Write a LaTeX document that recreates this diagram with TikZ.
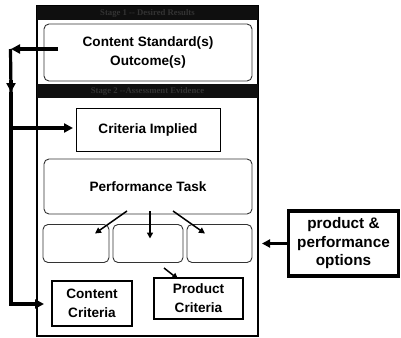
\documentclass[tikz,border=0pt]{standalone}
\usepackage{fontspec}
\setmainfont{Liberation Sans}
\newfontfamily\barfont{Liberation Serif}
\usetikzlibrary{arrows.meta,calc}
\begin{document}
\begin{tikzpicture}[x=1pt,y=-1pt,
  every node/.style={inner sep=0pt,outer sep=0pt,align=center,
    font=\fontsize{13.6}{19}\selectfont\bfseries},
  framebox/.style={draw,line width=2pt},
  bar/.style={fill=black!94,draw=none,font=\fontsize{8.7}{10}\selectfont\barfont\bfseries,text=black!80},
  rbox/.style={draw=black!80,line width=0.9pt,rounded corners=5pt},
  sbox/.style={draw,line width=1pt},
  cbox/.style={draw,line width=2pt},
  obox/.style={draw,line width=3.5pt,font=\fontsize{15.3}{18.5}\selectfont\bfseries},
  bigarrow/.style={line width=3.2pt,-{Triangle[length=9pt,width=9pt]}},
  bigline/.style={line width=3.2pt},
  smallarrow/.style={line width=1.5pt,-{Triangle[length=6pt,width=6pt]}},
  medarrow/.style={line width=2.2pt,-{Triangle[length=8pt,width=8pt]}}
]
\useasboundingbox (0,0) rectangle (401,337);
\node[framebox,minimum width=221pt,minimum height=330pt] (frame) at (147.5,171) {};
\node[bar,minimum width=221pt,minimum height=14pt] (bar1) at (147.5,13) {Stage 1 -- Desired Results};
\node[bar,minimum width=221pt,minimum height=14pt] (bar2) at (147.5,91) {Stage 2 --Assessment Evidence};
\node[rbox,minimum width=208pt,minimum height=57pt] (content) at (148,52.5) {Content Standard(s)\\Outcome(s)};
\node[sbox,minimum width=144pt,minimum height=43pt] (crit) at (148,129.5) {Criteria Implied};
\node[rbox,minimum width=208pt,minimum height=55pt] (pt) at (148,186.5) {\raisebox{-3pt}{Performance Task}};
\node[rbox,minimum width=66pt,minimum height=38pt] (b1) at (76,243.5) {};
\node[rbox,minimum width=70pt,minimum height=38pt] (b2) at (148,243.5) {};
\node[rbox,minimum width=65pt,minimum height=38pt] (b3) at (219.5,243.5) {};
\node[cbox,minimum width=80pt,minimum height=45pt] (cc) at (92,303.5) {Content\\Criteria};
\node[cbox,minimum width=89pt,minimum height=41pt] (pc) at (198.5,298.5) {Product\\Criteria};
\node[obox,minimum width=110pt,minimum height=65pt] (opt) at (343.5,243.5) {product \&\\performance\\options};
% left feedback loop
\coordinate (cs) at (58,49);
\coordinate (L1) at (11,49);
\coordinate (Lm) at (11,92);
\coordinate (Lc) at (11,128);
\coordinate (L2) at (11,304);
\draw[bigarrow] (cs) -- (L1);
\draw[bigline] (10.5,49) -- (Lm);
\draw[bigarrow] (11,80) -- (Lm);
\draw[bigline] (Lm) -- (11,305.6);
\draw[bigarrow] (Lc) -- ($(crit.west)+(-3,-1.5)$);
\draw[bigarrow] (9.4,304) -- ($(cc.west)+(-8,0.5)$);
% options
\draw[medarrow] (opt.west) -- ($(b3.east)+(10,0)$);
% performance task arrows
\draw[smallarrow] ($(pt.south)+(-21,-3)$) -- ($(b1.center)+(19,-10)$);
\draw[smallarrow] ($(pt.south)+(2,-3)$) -- ($(b2.center)+(2,-5)$);
\draw[smallarrow] ($(pt.south)+(25,-3)$) -- ($(b3.center)+(-14.5,-10)$);
\draw[smallarrow] ($(b2.south)+(16,5.5)$) -- ($(pc.north)+(-20.5,1)$);
\end{tikzpicture}
\end{document}
